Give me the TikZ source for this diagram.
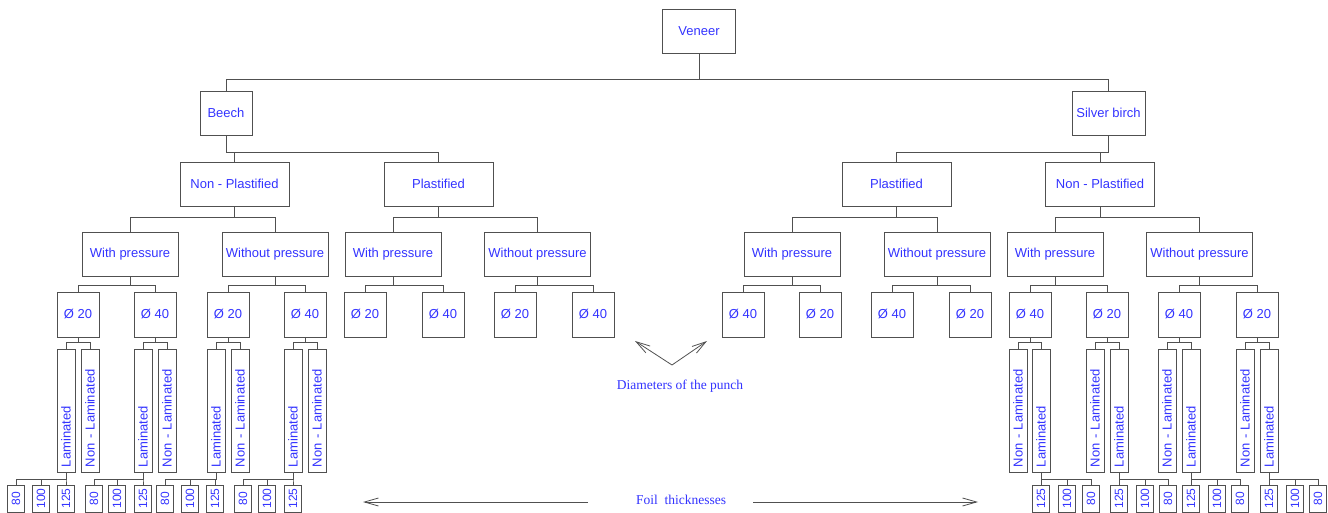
\documentclass[tikz,border=0pt]{standalone}
\usepackage{fontspec}
\setmainfont{Liberation Sans}
\newfontfamily\notefont{Liberation Serif}
\usepackage{tikz}
\usetikzlibrary{arrows.meta}
\definecolor{txtblue}{RGB}{51,51,255}
\definecolor{linegray}{RGB}{80,80,80}
\tikzstyle{box} = [rectangle, draw=linegray, line width=0.9pt, text=txtblue,
minimum height=44, inner sep=2pt, font=\fontsize{13}{15}\selectfont]
\tikzstyle{diam} = [box, minimum width=42, minimum height=45]
\tikzstyle{layer} = [box, rotate=90, minimum height=18, text width=113pt, inner xsep=5pt, inner ysep=0pt, align=left]
\tikzstyle{foilbox} = [box, rotate=90, minimum width=27, minimum height=17, inner sep=1pt, font=\fontsize{12}{14}\selectfont]
\tikzstyle{conn} = [draw=linegray, line width=0.9pt]
\tikzstyle{note} = [text=txtblue, font=\notefont\fontsize{13.5}{16}\selectfont]
\tikzstyle{arrow} = [linegray, line width=0.8pt, -{Straight Barb[length=14pt,width=8pt]}]

\begin{document}
\begin{tikzpicture}[x=1pt,y=-1pt]
\useasboundingbox (0,0) rectangle (1328,513);
% top levels
\node (veneer) at (699,31) [box, minimum width=73] {Veneer};
\node (beech) at (226,113) [box, minimum width=52] {Beech};
\node (birch) at (1108.5,113) [box, minimum width=73] {Silver birch};
\node (bnp) at (234.5,184) [box, minimum width=109] {Non - Plastified};
\node (bpl) at (438.5,184) [box, minimum width=109] {Plastified};
\node (spl) at (896.5,184) [box, minimum width=109] {Plastified};
\node (snp) at (1100,184) [box, minimum width=109] {Non - Plastified};
\node (bnpw) at (130,254) [box, minimum width=96] {With pressure};
\node (bnpo) at (275,254) [box, minimum width=106] {Without pressure};
\node (bplw) at (393,254) [box, minimum width=96] {With pressure};
\node (bplo) at (537.5,254) [box, minimum width=106] {Without pressure};
\node (splw) at (792,254) [box, minimum width=96] {With pressure};
\node (splo) at (937,254) [box, minimum width=106] {Without pressure};
\node (snpw) at (1055,254) [box, minimum width=96] {With pressure};
\node (snpo) at (1199.5,254) [box, minimum width=106] {Without pressure};
\draw[conn] (veneer) -- (veneer |- 0,79) -| (beech);
\draw[conn] (veneer) -- (veneer |- 0,79) -| (birch);
\draw[conn] (beech) -- (beech |- 0,152) -| (bnp);
\draw[conn] (beech) -- (beech |- 0,152) -| (bpl);
\draw[conn] (birch) -- (birch |- 0,152) -| (spl);
\draw[conn] (birch) -- (birch |- 0,152) -| (snp);
\draw[conn] (bnp) -- (bnp |- 0,217) -| (bnpw);
\draw[conn] (bnp) -- (bnp |- 0,217) -| (bnpo);
\draw[conn] (bpl) -- (bpl |- 0,217) -| (bplw);
\draw[conn] (bpl) -- (bpl |- 0,217) -| (bplo);
\draw[conn] (spl) -- (spl |- 0,217) -| (splw);
\draw[conn] (spl) -- (spl |- 0,217) -| (splo);
\draw[conn] (snp) -- (snp |- 0,217) -| (snpw);
\draw[conn] (snp) -- (snp |- 0,217) -| (snpo);
% diameters
\node (bnpw20) at (78,314.5) [diam] {Ø 20};
\node (bnpw40) at (155,314.5) [diam] {Ø 40};
\node (bnpo20) at (228,314.5) [diam] {Ø 20};
\node (bnpo40) at (305,314.5) [diam] {Ø 40};
\node (bplw20) at (365,314.5) [diam] {Ø 20};
\node (bplw40) at (443,314.5) [diam] {Ø 40};
\node (bplo20) at (515,314.5) [diam] {Ø 20};
\node (bplo40) at (593,314.5) [diam] {Ø 40};
\node (splw40) at (743,314.5) [diam] {Ø 40};
\node (splw20) at (820,314.5) [diam] {Ø 20};
\node (splo40) at (892,314.5) [diam] {Ø 40};
\node (splo20) at (970,314.5) [diam] {Ø 20};
\node (snpw40) at (1030,314.5) [diam] {Ø 40};
\node (snpw20) at (1107,314.5) [diam] {Ø 20};
\node (snpo40) at (1179,314.5) [diam] {Ø 40};
\node (snpo20) at (1257,314.5) [diam] {Ø 20};
\draw[conn] (bnpw) -- (bnpw |- 0,285) -| (bnpw20);
\draw[conn] (bnpw) -- (bnpw |- 0,285) -| (bnpw40);
\draw[conn] (bnpo) -- (bnpo |- 0,285) -| (bnpo20);
\draw[conn] (bnpo) -- (bnpo |- 0,285) -| (bnpo40);
\draw[conn] (bplw) -- (bplw |- 0,285) -| (bplw20);
\draw[conn] (bplw) -- (bplw |- 0,285) -| (bplw40);
\draw[conn] (bplo) -- (bplo |- 0,285) -| (bplo20);
\draw[conn] (bplo) -- (bplo |- 0,285) -| (bplo40);
\draw[conn] (splw) -- (splw |- 0,285) -| (splw40);
\draw[conn] (splw) -- (splw |- 0,285) -| (splw20);
\draw[conn] (splo) -- (splo |- 0,285) -| (splo40);
\draw[conn] (splo) -- (splo |- 0,285) -| (splo20);
\draw[conn] (snpw) -- (snpw |- 0,285) -| (snpw40);
\draw[conn] (snpw) -- (snpw |- 0,285) -| (snpw20);
\draw[conn] (snpo) -- (snpo |- 0,285) -| (snpo40);
\draw[conn] (snpo) -- (snpo |- 0,285) -| (snpo20);
% laminated / non-laminated
\node (bnpw20l) at (66,410.5) [layer] {Laminated};
\node (bnpw20n) at (90,410.5) [layer] {Non - Laminated};
\node (bnpw40l) at (143,410.5) [layer] {Laminated};
\node (bnpw40n) at (167,410.5) [layer] {Non - Laminated};
\node (bnpo20l) at (216,410.5) [layer] {Laminated};
\node (bnpo20n) at (240,410.5) [layer] {Non - Laminated};
\node (bnpo40l) at (293,410.5) [layer] {Laminated};
\node (bnpo40n) at (317,410.5) [layer] {Non - Laminated};
\node (snpw40n) at (1018,410.5) [layer] {Non - Laminated};
\node (snpw40l) at (1041,410.5) [layer] {Laminated};
\node (snpw20n) at (1095,410.5) [layer] {Non - Laminated};
\node (snpw20l) at (1119,410.5) [layer] {Laminated};
\node (snpo40n) at (1167,410.5) [layer] {Non - Laminated};
\node (snpo40l) at (1191,410.5) [layer] {Laminated};
\node (snpo20n) at (1245,410.5) [layer] {Non - Laminated};
\node (snpo20l) at (1269,410.5) [layer] {Laminated};
\draw[conn] (bnpw20) -- (bnpw20 |- 0,342) -| (bnpw20l);
\draw[conn] (bnpw20) -- (bnpw20 |- 0,342) -| (bnpw20n);
\draw[conn] (bnpw40) -- (bnpw40 |- 0,342) -| (bnpw40l);
\draw[conn] (bnpw40) -- (bnpw40 |- 0,342) -| (bnpw40n);
\draw[conn] (bnpo20) -- (bnpo20 |- 0,342) -| (bnpo20l);
\draw[conn] (bnpo20) -- (bnpo20 |- 0,342) -| (bnpo20n);
\draw[conn] (bnpo40) -- (bnpo40 |- 0,342) -| (bnpo40l);
\draw[conn] (bnpo40) -- (bnpo40 |- 0,342) -| (bnpo40n);
\draw[conn] (snpw40) -- (snpw40 |- 0,342) -| (snpw40n);
\draw[conn] (snpw40) -- (snpw40 |- 0,342) -| (snpw40l);
\draw[conn] (snpw20) -- (snpw20 |- 0,342) -| (snpw20n);
\draw[conn] (snpw20) -- (snpw20 |- 0,342) -| (snpw20l);
\draw[conn] (snpo40) -- (snpo40 |- 0,342) -| (snpo40n);
\draw[conn] (snpo40) -- (snpo40 |- 0,342) -| (snpo40l);
\draw[conn] (snpo20) -- (snpo20 |- 0,342) -| (snpo20n);
\draw[conn] (snpo20) -- (snpo20 |- 0,342) -| (snpo20l);
% foil thicknesses
\node (bnpw20a) at (16,498.5) [foilbox] {80};
\node (bnpw20b) at (41,498.5) [foilbox] {100};
\node (bnpw20c) at (66,498.5) [foilbox] {125};
\node (bnpw40a) at (94,498.5) [foilbox] {80};
\node (bnpw40b) at (117,498.5) [foilbox] {100};
\node (bnpw40c) at (143,498.5) [foilbox] {125};
\node (bnpo20a) at (165,498.5) [foilbox] {80};
\node (bnpo20b) at (190,498.5) [foilbox] {100};
\node (bnpo20c) at (215,498.5) [foilbox] {125};
\node (bnpo40a) at (243,498.5) [foilbox] {80};
\node (bnpo40b) at (267,498.5) [foilbox] {100};
\node (bnpo40c) at (293,498.5) [foilbox] {125};
\node (snpw40c) at (1041,498.5) [foilbox] {125};
\node (snpw40b) at (1067,498.5) [foilbox] {100};
\node (snpw40a) at (1091,498.5) [foilbox] {80};
\node (snpw20c) at (1119,498.5) [foilbox] {125};
\node (snpw20b) at (1145,498.5) [foilbox] {100};
\node (snpw20a) at (1168,498.5) [foilbox] {80};
\node (snpo40c) at (1191,498.5) [foilbox] {125};
\node (snpo40b) at (1217,498.5) [foilbox] {100};
\node (snpo40a) at (1240,498.5) [foilbox] {80};
\node (snpo20c) at (1269,498.5) [foilbox] {125};
\node (snpo20b) at (1295,498.5) [foilbox] {100};
\node (snpo20a) at (1318,498.5) [foilbox] {80};
\draw[conn] (bnpw20l) -- (bnpw20l |- 0,479) -| (bnpw20a);
\draw[conn] (bnpw20l) -- (bnpw20l |- 0,479) -| (bnpw20b);
\draw[conn] (bnpw20l) -- (bnpw20l |- 0,479) -| (bnpw20c);
\draw[conn] (bnpw40l) -- (bnpw40l |- 0,479) -| (bnpw40a);
\draw[conn] (bnpw40l) -- (bnpw40l |- 0,479) -| (bnpw40b);
\draw[conn] (bnpw40l) -- (bnpw40l |- 0,479) -| (bnpw40c);
\draw[conn] (bnpo20l) -- (bnpo20l |- 0,479) -| (bnpo20a);
\draw[conn] (bnpo20l) -- (bnpo20l |- 0,479) -| (bnpo20b);
\draw[conn] (bnpo20l) -- (bnpo20l |- 0,479) -| (bnpo20c);
\draw[conn] (bnpo40l) -- (bnpo40l |- 0,479) -| (bnpo40a);
\draw[conn] (bnpo40l) -- (bnpo40l |- 0,479) -| (bnpo40b);
\draw[conn] (bnpo40l) -- (bnpo40l |- 0,479) -| (bnpo40c);
\draw[conn] (snpw40l) -- (snpw40l |- 0,479) -| (snpw40a);
\draw[conn] (snpw40l) -- (snpw40l |- 0,479) -| (snpw40b);
\draw[conn] (snpw40l) -- (snpw40l |- 0,479) -| (snpw40c);
\draw[conn] (snpw20l) -- (snpw20l |- 0,479) -| (snpw20a);
\draw[conn] (snpw20l) -- (snpw20l |- 0,479) -| (snpw20b);
\draw[conn] (snpw20l) -- (snpw20l |- 0,479) -| (snpw20c);
\draw[conn] (snpo40l) -- (snpo40l |- 0,479) -| (snpo40a);
\draw[conn] (snpo40l) -- (snpo40l |- 0,479) -| (snpo40b);
\draw[conn] (snpo40l) -- (snpo40l |- 0,479) -| (snpo40c);
\draw[conn] (snpo20l) -- (snpo20l |- 0,479) -| (snpo20a);
\draw[conn] (snpo20l) -- (snpo20l |- 0,479) -| (snpo20b);
\draw[conn] (snpo20l) -- (snpo20l |- 0,479) -| (snpo20c);
% notes
\node (punch) at (680,386) [note] {Diameters of the punch};
\coordinate (vtx) at (672,365);
\coordinate (tipl) at (635,341);
\coordinate (tipr) at (707,341);
\draw[arrow] (vtx) -- (tipl);
\draw[arrow] (vtx) -- (tipr);
\node (foil) at (681,500) [note] {Foil\ \ thicknesses};
\coordinate (fl) at (588,502);
\coordinate (fltip) at (363,502);
\coordinate (fr) at (753,502);
\coordinate (frtip) at (978,502);
\draw[arrow] (fl) -- (fltip);
\draw[arrow] (fr) -- (frtip);
\end{tikzpicture}
\end{document}
